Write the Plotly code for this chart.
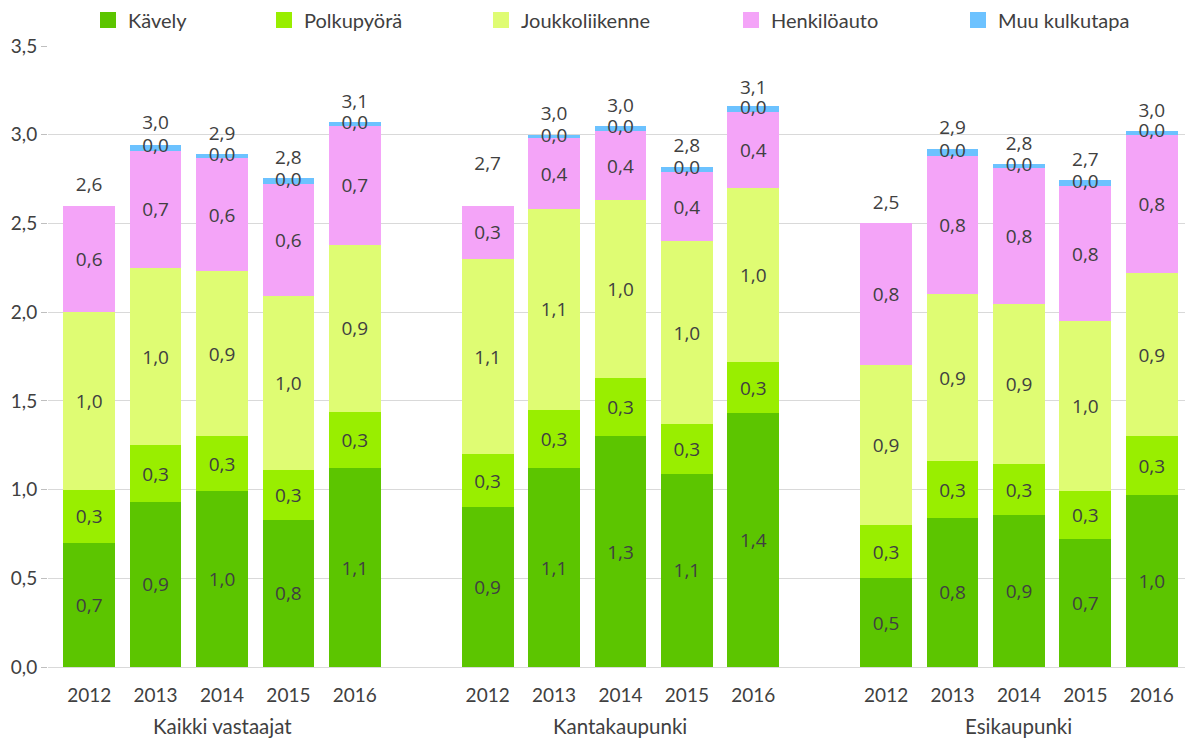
import plotly.graph_objects as go

groups = ["Kaikki vastaajat", "Kantakaupunki", "Esikaupunki"]
years = ["2012", "2013", "2014", "2015", "2016"]
series_names = ["Kävely", "Polkupyörä", "Joukkoliikenne", "Henkilöauto", "Muu kulkutapa"]
colors = ["#5CC500", "#99EE00", "#DFFC73", "#F4A4F8", "#6CC2FF"]

kavely = [0.70, 0.93, 0.99, 0.83, 1.12, 0.90, 1.12, 1.30, 1.09, 1.43, 0.50, 0.84, 0.855, 0.72, 0.97]
polkupyora = [0.30, 0.32, 0.31, 0.28, 0.32, 0.30, 0.33, 0.33, 0.28, 0.29, 0.30, 0.32, 0.29, 0.27, 0.33]
joukkoliikenne = [1.00, 1.00, 0.93, 0.98, 0.94, 1.10, 1.13, 1.00, 1.03, 0.98, 0.90, 0.94, 0.90, 0.96, 0.92]
henkiloauto = [0.60, 0.66, 0.64, 0.63, 0.67, 0.30, 0.40, 0.39, 0.39, 0.43, 0.80, 0.78, 0.765, 0.76, 0.78]
muu = [None, 0.034, 0.022, 0.034, 0.023, None, 0.017, 0.028, 0.028, 0.030, None, 0.040, 0.023, 0.034, 0.023]
totals = [2.60, 2.952, 2.89, 2.754, 3.07, 2.72, 3.00, 3.045, 2.82, 3.145, 2.50, 2.92, 2.83, 2.74, 3.02]

series = [kavely, polkupyora, joukkoliikenne, henkiloauto, muu]

# x slots: 5 bars per group, one empty slot between groups
xs = [g * 6 + i for g in range(len(groups)) for i in range(len(years))]
ticktext = [y for g in groups for y in years]

TXT = "#404040"
FONT_AX = "Lato"
FONT_LBL = "Open Sans"

fig = go.Figure()

# legend text starting pixels
legend_text_px = [128, 304, 521, 771, 998]
plot_left, plot_right = 48, 1185
pw = plot_right - plot_left

for k, (name, vals, col) in enumerate(zip(series_names, series, colors)):
    is_muu = k == 4
    fig.add_trace(go.Bar(
        x=xs, y=[v if v is not None else 0 for v in vals], name=name,
        marker=dict(color=col, line=dict(width=0)),
        text=None if is_muu else vals,
        texttemplate=None if is_muu else "%{y:.1f}",
        textposition="none" if is_muu else "inside",
        insidetextanchor="middle",
        textfont=dict(family=FONT_LBL, size=19, color=TXT),
        showlegend=False, width=0.78, hoverinfo="skip",
    ))

# legend entries with larger square swatches
for k, (name, col) in enumerate(zip(series_names, colors)):
    lg = "legend" if k == 0 else f"legend{k+1}"
    fig.add_trace(go.Scatter(
        x=[None], y=[None], mode="markers", name=name,
        marker=dict(symbol="square", size=16, color=col, line=dict(width=0)),
        legend=lg, hoverinfo="skip",
    ))

# Muu labels centered on thin segment
muu_x, muu_y, muu_t = [], [], []
for j, m in enumerate(muu):
    if m is None:
        continue
    base = kavely[j] + polkupyora[j] + joukkoliikenne[j] + henkiloauto[j]
    muu_x.append(xs[j])
    muu_y.append(base + m / 2)
    muu_t.append(m)
fig.add_trace(go.Scatter(
    x=muu_x, y=muu_y, mode="text", text=muu_t, texttemplate="%{text:.1f}",
    textposition="middle center",
    textfont=dict(family=FONT_LBL, size=19, color=TXT),
    showlegend=False, hoverinfo="skip", cliponaxis=False,
))

# totals above bars (transparent marker pushes the text up)
fig.add_trace(go.Scatter(
    x=xs, y=totals, mode="markers+text", text=totals, texttemplate="%{text:.1f}",
    textposition="top center",
    marker=dict(size=14, color="rgba(0,0,0,0)"),
    textfont=dict(family=FONT_LBL, size=19, color=TXT),
    showlegend=False, hoverinfo="skip", cliponaxis=False,
))

legend_layouts = {}
for k in range(5):
    key = "legend" if k == 0 else f"legend{k+1}"
    px = legend_text_px[k] - 40
    legend_layouts[key] = dict(
        x=(px - plot_left) / pw, xanchor="left",
        y=1 + (46 - 20) / 621, yanchor="middle",
        orientation="h", bgcolor="rgba(0,0,0,0)",
        font=dict(family=FONT_AX, size=20, color=TXT),
        itemsizing="trace",
    )

for g, gname in enumerate(groups):
    fig.add_annotation(
        x=g * 6 + 2, y=0, xref="x", yref="paper", yshift=-73,
        text=gname, showarrow=False,
        font=dict(family=FONT_AX, size=20.5, color=TXT),
    )

fig.update_layout(
    barmode="stack",
    width=1192, height=740,
    margin=dict(l=48, r=7, t=46, b=73, autoexpand=False),
    paper_bgcolor="white", plot_bgcolor="white",
    separators=", ",
    bargap=0.22,
    xaxis=dict(
        range=[-0.62, 16.5], tickvals=xs, ticktext=ticktext,
        showgrid=False, zeroline=False, showline=False, ticks="",
        ticklabelstandoff=15,
        tickfont=dict(family=FONT_AX, size=19, color=TXT),
        fixedrange=True, automargin=False,
    ),
    yaxis=dict(
        range=[0, 3.5], dtick=0.5, tickformat=".1f",
        showgrid=True, gridcolor="#D9D9D9", gridwidth=1,
        zeroline=True, zerolinecolor="#D9D9D9", zerolinewidth=1,
        ticks="outside", ticklen=6, tickcolor="#BFBFBF",
        tickfont=dict(family=FONT_AX, size=19, color=TXT),
        fixedrange=True, automargin=False,
    ),
    **legend_layouts,
)

fig.write_html("out.html", config={"displayModeBar": False},
               post_script="document.body.style.margin='0';")
